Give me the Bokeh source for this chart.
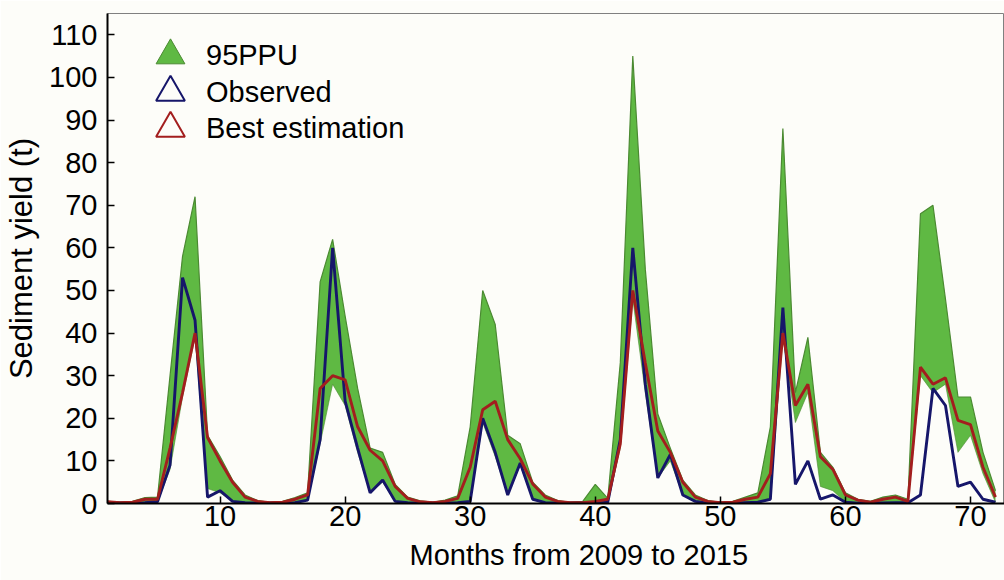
import math
from bokeh.plotting import figure
from bokeh.models import Range1d, Legend, LegendItem, Title, FixedTicker, ColumnDataSource
from bokeh.embed import file_html
from bokeh.resources import INLINE

# ---- data ----
months = list(range(1, 73))
observed = [0.2, 0.1, 0.1, 0.2, 0.4, 9, 53, 43, 1.5, 3, 0.5, 0.2,
            0.1, 0.1, 0.1, 0.2, 0.8, 15, 60, 24, 13, 2.5, 5.5, 0.5,
            0.2, 0.1, 0.1, 0.1, 0.2, 0.5, 20, 12, 2, 9.5, 1, 0.2,
            0.1, 0.1, 0.1, 0.1, 0.3, 15, 60, 28, 6, 11.5, 2, 0.5,
            0.1, 0.1, 0.1, 0.2, 0.3, 1, 46, 4.5, 10, 1, 2, 0.3,
            0.1, 0.1, 0.1, 0.2, 0.2, 2, 27, 23, 4, 5, 1, 0.3]
best = [0.4, 0.2, 0.3, 1.0, 1.0, 13, 26, 40, 15.5, 10, 5, 1.5,
        0.5, 0.2, 0.3, 1.0, 2.0, 27, 30, 29, 18, 12.5, 10, 4,
        1.2, 0.4, 0.2, 0.5, 1.2, 8.5, 22, 24, 15, 10.5, 4.6, 1.5,
        0.5, 0.2, 0.2, 0.5, 1.0, 14, 50, 33, 17, 12, 5, 1.5,
        0.5, 0.2, 0.3, 1.0, 1.5, 7, 40, 23, 28, 11, 8, 2,
        0.8, 0.3, 1.0, 1.5, 0.5, 32, 28, 29.5, 19.5, 18.5, 8.5, 1.5]
lower = [0.1, 0.1, 0.1, 0.3, 0.3, 8, 25, 39, 3.5, 2.5, 0.5, 0.2,
         0.1, 0.1, 0.1, 0.3, 0.8, 14, 28, 23, 12, 2.5, 5, 0.5,
         0.2, 0.1, 0.1, 0.1, 0.3, 0.5, 19, 11, 2, 9, 1, 0.2,
         0.1, 0.1, 0.1, 0.1, 0.3, 13, 48, 26, 6, 10, 2, 0.4,
         0.1, 0.1, 0.1, 0.3, 0.3, 1, 39, 19, 26, 4, 3, 0.3,
         0.1, 0.1, 0.1, 0.2, 0.2, 30, 26, 28, 12, 16, 7, 0.3]
upper = [0.5, 0.3, 0.5, 1.4, 1.5, 30, 58, 72, 16, 11, 5.5, 2,
         0.7, 0.3, 0.5, 1.4, 2.5, 52, 62, 44, 27, 13, 12, 4.5,
         1.5, 0.6, 0.3, 0.8, 1.8, 18, 50, 42, 16, 14, 5, 2,
         0.7, 0.3, 0.5, 4.5, 1.2, 33, 105, 55, 21, 13, 5.5, 2,
         0.7, 0.3, 0.5, 1.5, 2.5, 18, 88, 26, 39, 12, 8.5, 2.5,
         1, 0.5, 1.5, 2, 1, 68, 70, 48, 25, 25, 12, 3]
x_ticks = [10, 20, 30, 40, 50, 60, 70]
y_ticks = [0, 10, 20, 30, 40, 50, 60, 70, 80, 90, 100, 110]

series_names = ["95PPU", "Observed", "Best estimation"]
x_title = "Months from 2009 to 2015"
y_title = "Sediment yield (t)"

# ---- styles ----
BG = "#fdfdf9"
GREEN = "#5fb943"
GREEN_EDGE = "#4b8a32"
NAVY = "#16166a"
DARKRED = "#a31e1e"
FONT = "Liberation Sans"
FS = "29px"

src = ColumnDataSource(dict(m=months, obs=observed, best=best, lo=lower, up=upper))

p = figure(width=1004, height=580,
           x_range=Range1d(1, 72.72), y_range=Range1d(0, 115),
           output_backend="svg", toolbar_location=None,
           min_border_left=107, min_border_right=0,
           min_border_top=13, min_border_bottom=77)
p.background_fill_color = BG
p.border_fill_color = BG
p.grid.visible = False
p.outline_line_color = "#808080"
p.outline_line_width = 1

# 95PPU band
p.varea(x="m", y1="lo", y2="up", source=src, fill_color=GREEN, fill_alpha=1.0)
p.line(x="m", y="up", source=src, line_color=GREEN_EDGE, line_width=1.2)
p.line(x="m", y="lo", source=src, line_color=GREEN_EDGE, line_width=1.0, line_alpha=0.6)
# observed and best estimation
p.line(x="m", y="obs", source=src, line_color=NAVY, line_width=2.9)
p.line(x="m", y="best", source=src, line_color=DARKRED, line_width=2.9)

# axes
p.xaxis.ticker = FixedTicker(ticks=x_ticks)
p.yaxis.ticker = FixedTicker(ticks=y_ticks)
for ax in (p.xaxis[0], p.yaxis[0]):
    ax.axis_line_color = "black"
    ax.axis_line_width = 2
    ax.major_tick_line_color = "black"
    ax.major_tick_line_width = 1.5
    ax.major_tick_in = 7
    ax.major_tick_out = 0
    ax.minor_tick_in = 0
    ax.minor_tick_out = 0
    ax.major_label_text_font = FONT
    ax.major_label_text_font_size = FS
    ax.major_label_text_color = "black"
p.xaxis.major_label_standoff = 2
p.yaxis.major_label_standoff = 10
p.yaxis.axis_label = y_title
p.yaxis.axis_label_text_font = FONT
p.yaxis.axis_label_text_font_size = "31px"
p.yaxis.axis_label_text_font_style = "normal"
p.yaxis.axis_label_text_color = "black"
p.yaxis.axis_label_standoff = 7

p.add_layout(Title(text=x_title, align="left", offset=302, standoff=17,
                   text_font=FONT, text_font_size=FS, text_font_style="normal",
                   text_color="black"), "below")

# legend: one small legend per row so the rows can sit close together
nan = float("nan")
icon_styles = [
    dict(fill_color=GREEN, fill_alpha=1.0, line_color=GREEN_EDGE, line_width=1),
    dict(fill_alpha=0, line_color=NAVY, line_width=2),
    dict(fill_alpha=0, line_color=DARKRED, line_width=2),
]
row_y = [412, 375, 339]
for name, style, ly in zip(series_names, icon_styles, row_y):
    r = p.scatter(x=[nan], y=[nan], marker="triangle", size=29, **style)
    lg = Legend(items=[LegendItem(label=name, renderers=[r])],
                location=(27, ly), glyph_width=72, glyph_height=72,
                spacing=0, label_standoff=0, padding=0, margin=0,
                border_line_alpha=0, background_fill_alpha=0,
                label_text_font=FONT, label_text_font_size=FS,
                label_text_color="black")
    p.add_layout(lg)

open("out.html", "w").write(file_html(p, INLINE))
